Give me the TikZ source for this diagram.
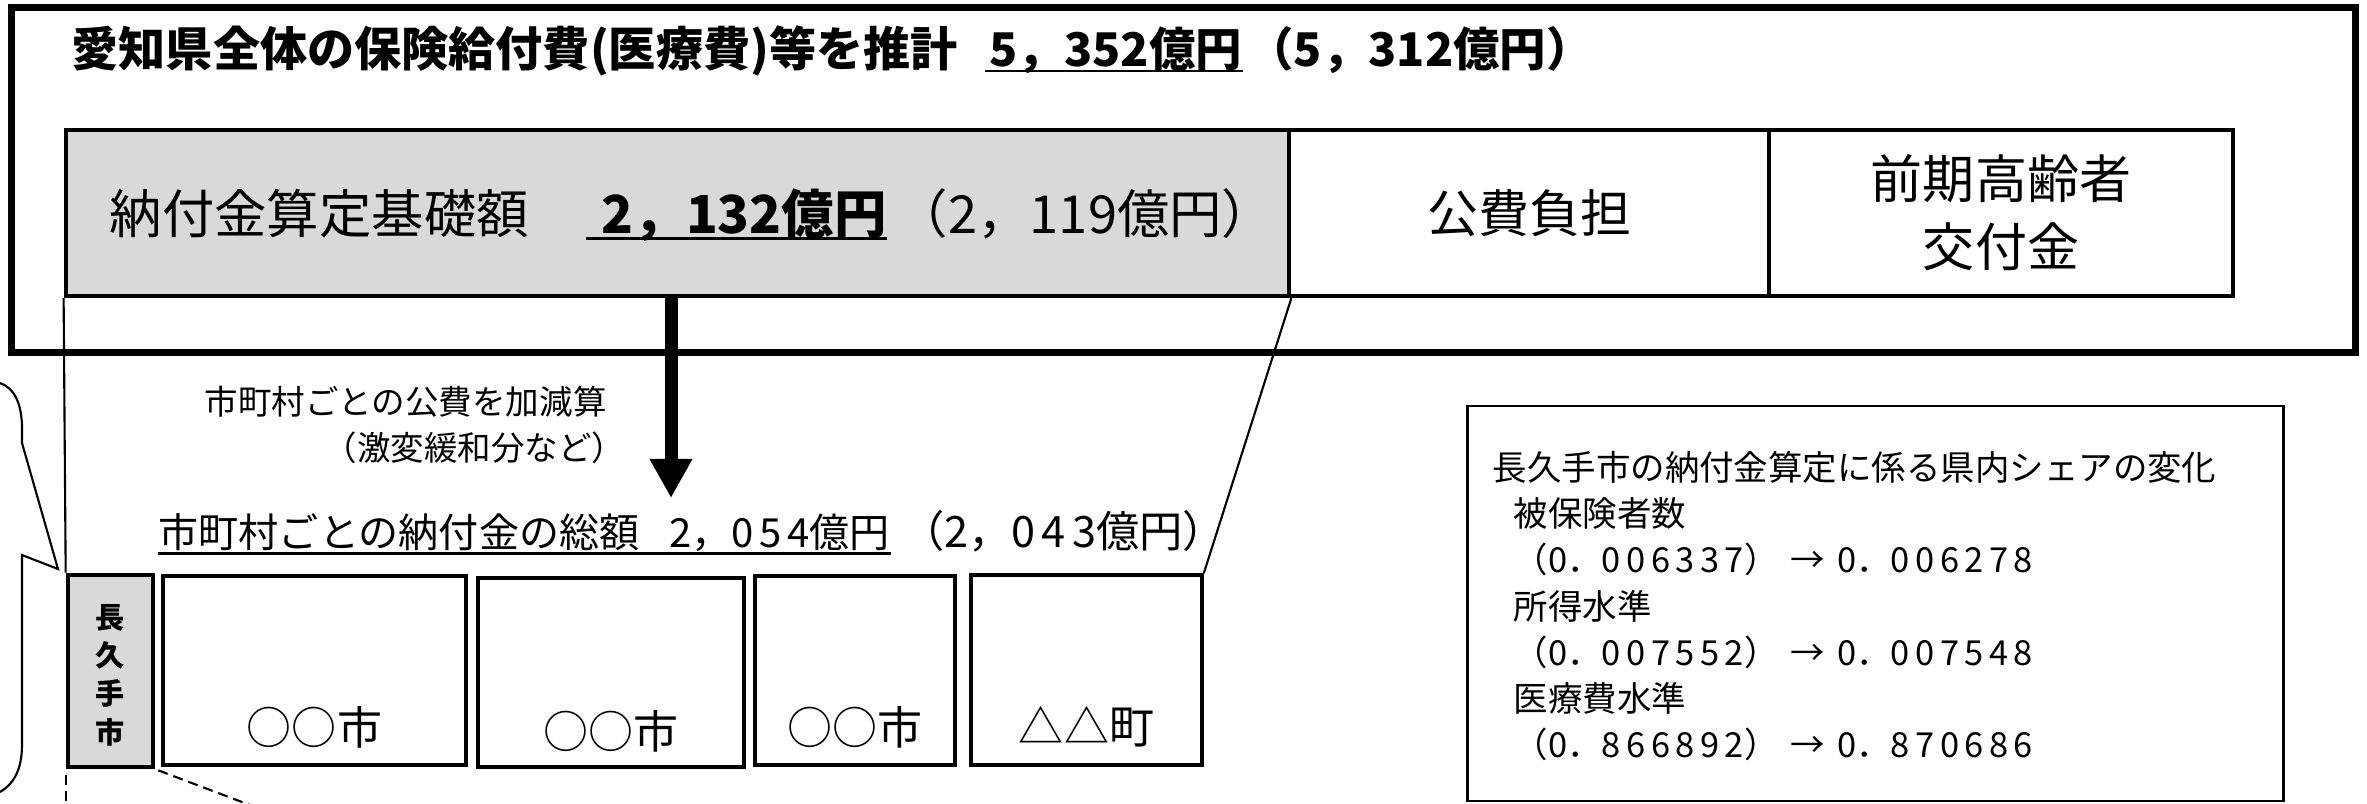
\documentclass[tikz,border=0pt]{standalone}
\usepackage{fontspec}
\setmainfont{Noto Sans CJK JP}
\usetikzlibrary{arrows.meta,calc}
\definecolor{gbox}{HTML}{D9D9D9}
\newcommand{\fsz}[2]{\fontsize{#1}{#2}\selectfont}
\newcommand{\lsd}[2][16]{{\addfontfeature{LetterSpace=#1}#2}}
\begin{document}
\begin{tikzpicture}[x=0.01cm,y=-0.01cm,
  outerbox/.style={draw, line width=2pt, inner sep=0pt},
  rowbox/.style={draw, line width=1.15pt, inner sep=0pt, minimum height=1.66cm},
  citybox/.style={draw, line width=1pt, inner sep=0pt},
  txt/.style={inner sep=0pt, anchor=base west},
  ctxt/.style={inner sep=0pt, align=center},
  thinline/.style={line width=0.6pt},
  dashline/.style={line width=0.6pt, dash pattern=on 0.1cm off 0.06cm},
  uline/.style={line width=0.85pt},
  bigarrow/.style={line width=3.7pt, -{Triangle[width=0.40cm,length=0.39cm]}}]
\useasboundingbox (0,0) rectangle (2367,803);
\clip (0,0) rectangle (2367,803);
\fill[white] (0,0) rectangle (2367,803);

% upper frame
\node[outerbox, minimum width=23.43cm, minimum height=3.44cm] (outer) at (1183.5,180) {};
\node[rowbox, fill=gbox, minimum width=12.23cm] (base) at (677.5,213) {};
\node[rowbox, minimum width=4.80cm] (pub) at (1529,213) {};
\node[rowbox, minimum width=4.64cm] (elder) at (2001,213) {};

% title
\node[txt, font=\bfseries\fsz{13.4pt}{13.4pt}] (title) at (71,67) {愛知県全体の保険給付費(医療費)等を推計};
\node[txt, font=\bfseries\fsz{13.2pt}{13.2pt}] (tamt) at (989,67) {5，352億円};
\node[txt, font=\bfseries\fsz{13.2pt}{13.2pt}] (tprev) at ([xshift=0.04cm]tamt.base east) {（5，312億円）};
\draw[uline] ([xshift=-0.04cm,yshift=-0.04cm]tamt.base west) -- ([yshift=-0.04cm]tamt.base east);

% base row texts
\node[txt, font=\fsz{14.9pt}{14.9pt}] (bname) at (109,233) {納付金算定基礎額};
\node[txt, font=\bfseries\fsz{14.9pt}{14.9pt}] (bamt) at (601,233) {2，132億円};
\node[txt, font=\fsz{14.9pt}{14.9pt}] (bprev) at ([xshift=0.08cm]bamt.base east) {（2，119億円）};
\draw[uline] ([xshift=-0.15cm,yshift=-0.055cm]bamt.base west) -- ([yshift=-0.055cm]bamt.base east);
\node[ctxt, font=\fsz{14.5pt}{14.5pt}] at (pub.center) {公費負担};
\node[ctxt, font=\fsz{14.8pt}{19.35pt}] at (elder.center) {前期高齢者\\交付金};

% arrow and its labels
\coordinate (atip) at (671,498);
\draw[bigarrow] (atip |- base.south) -- (atip);
\node[txt, font=\fsz{9.53pt}{9.53pt}] (adj1) at (204,414) {市町村ごとの公費を加減算};
\node[inner sep=0pt, anchor=base east, font=\fsz{9.53pt}{9.53pt}] (adj2) at (626,460) {（激変緩和分など）};

% municipal total
\node[txt, font=\fsz{11.4pt}{11.4pt}] (mtot) at (158,547) {市町村ごとの納付金の総額\hspace{0.75em}\lsd[14]{2}，\lsd[14]{054}億円};
\node[txt, font=\fsz{12.3pt}{12.3pt}] (mprev) at ([xshift=0.1cm]mtot.base east) {（\lsd[14]{2}，\lsd[14]{043}億円）};
\draw[uline] ([yshift=-0.06cm]mtot.base west) -- ([yshift=-0.06cm]mtot.base east);

% municipal boxes
\node[citybox, line width=1.3pt, fill=gbox, minimum width=0.85cm, minimum height=1.92cm] (nag) at (110.5,671) {};
\node[citybox, minimum width=3.03cm, minimum height=1.89cm] (b1) at (314.5,670.5) {};
\node[citybox, minimum width=2.66cm, minimum height=1.89cm] (b2) at (611,672.5) {};
\node[citybox, minimum width=2.00cm, minimum height=1.89cm] (b3) at (855,670.5) {};
\node[citybox, minimum width=2.31cm, minimum height=1.90cm] (b4) at (1086.5,670) {};
\node[ctxt, font=\bfseries\fsz{8.3pt}{10.9pt}] at ([yshift=-0.04cm]nag.center) {長\\久\\手\\市};
\coordinate (ly) at (0,727);
\node[ctxt, font=\fsz{12.8pt}{12.8pt}] at (b1.center |- ly) {○○市};
\node[ctxt, font=\fsz{12.8pt}{12.8pt}] at ([yshift=-0.04cm]b2.center |- ly) {○○市};
\node[ctxt, font=\fsz{12.8pt}{12.8pt}] at (b3.center |- ly) {○○市};
\node[ctxt, font=\fsz{12.8pt}{12.8pt}] at (b4.center |- ly) {△△町};

% connectors from the base box to the municipal row
\draw[thinline] (base.south west) -- (nag.north west);
\draw[thinline] (base.south east) -- (b4.north east);

% callout bubble at the left
\coordinate (btip) at (58,569);
\draw[thinline] (0,383) .. controls (14,388) and (21,402) .. (22,425) -- (22,443) -- (btip) -- (22,555) -- (22,745) .. controls (22,772) and (12,785) .. (0,792);

% dashed leaders at the bottom
\draw[dashline] ([yshift=-0.06cm]nag.south west) -- ++(0,80);
\draw[dashline] ([xshift=0.03cm,yshift=-0.01cm]nag.south east) -- ++(140,53);

% share box
\node[draw, line width=0.75pt, inner sep=0pt, minimum width=8.15cm, minimum height=3.95cm] (share) at (1875.5,603.5) {};
\begin{scope}[every node/.style={txt, font=\fsz{9.8pt}{9.8pt}}]
\node (s1) at (1492,480) {長久手市の納付金算定に係る県内シェアの変化};
\node (s2) at (1513,526) {被保険者数};
\node (s3) at (1513,572) {（\lsd{0}．\lsd{006337}）\hspace{0.35em}→\hspace{0.35em}\lsd{0}．\lsd{006278}};
\node (s4) at (1513,619) {所得水準};
\node (s5) at (1513,665) {（\lsd{0}．\lsd{007552}）\hspace{0.35em}→\hspace{0.35em}\lsd{0}．\lsd{007548}};
\node (s6) at (1513,711) {医療費水準};
\node (s7) at (1513,757) {（\lsd{0}．\lsd{866892}）\hspace{0.35em}→\hspace{0.35em}\lsd{0}．\lsd{870686}};
\end{scope}
\end{tikzpicture}
\end{document}
